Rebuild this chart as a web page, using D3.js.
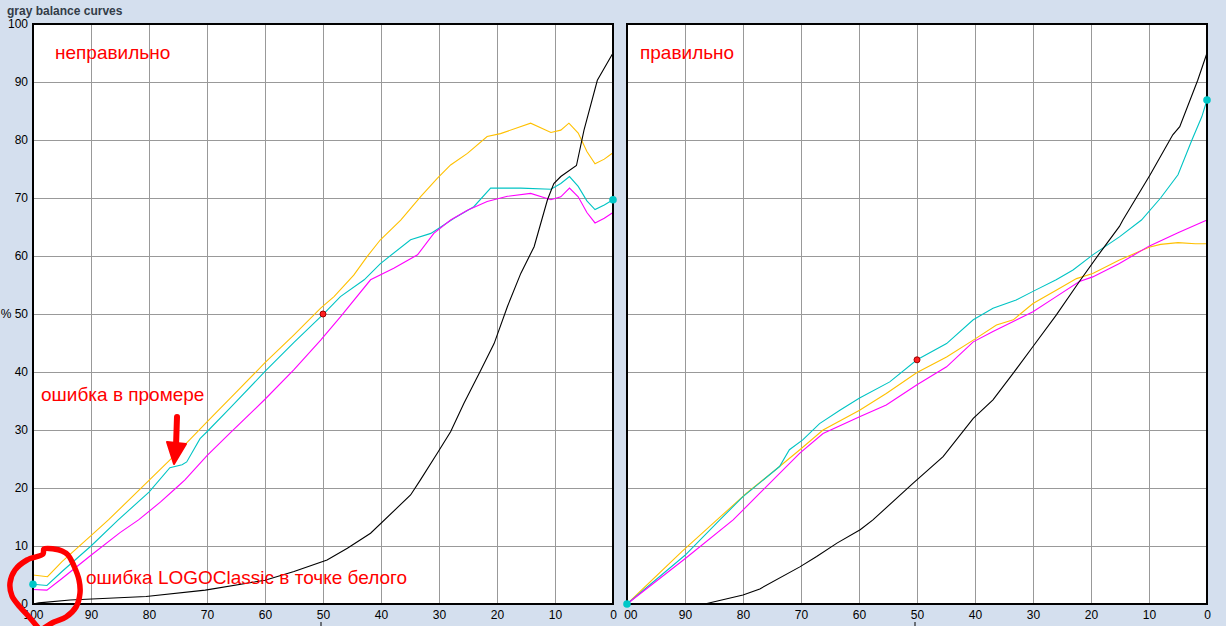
<!DOCTYPE html>
<html><head><meta charset="utf-8">
<script src="https://cdn.jsdelivr.net/npm/d3@7"></script>
<style>
html,body{margin:0;padding:0;background:#d4dfee;}
svg{display:block;}
</style></head>
<body>
<svg id="c" width="1226" height="626"></svg>
<script>
// ---- data ----
const title = "gray balance curves";
const xTicks = [100, 90, 80, 70, 60, 50, 40, 30, 20, 10, 0];
const yTicks = [0, 10, 20, 30, 40, 50, 60, 70, 80, 90, 100];
const yTickLabels = ["0", "10", "20", "30", "40", "% 50", "60", "70", "80", "90", "100"];

// left panel ("неправильно")
const leftYellow = [[100,5.0],[97.5,4.7],[95,7.3],[90,11.8],[87,14.5],[80,21.3],[75.5,25.7],[70,31.4],[65,36.5],[60,41.6],[55,46.4],[50.4,51.0],[48.1,53.0],[44.7,56.7],[42.4,59.9],[40.1,62.8],[36.6,66.2],[33.2,70.2],[30.3,73.4],[28,75.7],[25.1,77.7],[21.7,80.6],[19.4,81.1],[14.2,82.9],[10.7,81.3],[9,81.7],[7.6,82.9],[6,81.2],[4.5,78],[3.1,75.9],[1.5,76.7],[0,77.8]];
const leftCyan = [[100,3.4],[97.6,3.2],[95,5.6],[90,10.0],[85.3,14.5],[80,19.3],[76.4,23.5],[74.3,24.0],[73.5,24.5],[71.2,28.5],[70,29.7],[66,33.8],[60,40.1],[55,45.1],[49.8,50.1],[47,53],[42.9,55.9],[40.1,58.7],[34.9,62.8],[31.4,63.9],[27.4,66.5],[24,68.5],[21.1,71.7],[15.9,71.7],[10.7,71.5],[9,72.5],[7.5,73.7],[6,72],[4.5,69.5],[3.1,68.0],[1.5,68.8],[0,69.7]];
const leftMagenta = [[100,2.5],[97.6,2.4],[95,4.4],[90,8.4],[85,12.3],[81.8,14.5],[78,17.6],[75,20.3],[73.8,21.4],[70,25.6],[66,29.5],[60,35.3],[55,40.4],[50.4,45.5],[47,49.5],[41.8,55.9],[37.8,57.9],[33.7,60.2],[30.9,63.9],[28,66.2],[25.1,67.9],[21.7,69.4],[18.2,70.3],[14.2,70.8],[10.7,69.7],[9,70.2],[7.5,71.7],[6,70.2],[4.5,67.5],[3.1,65.7],[1.5,66.5],[0,67.5]];
const leftBlack = [[100,0],[99,0.2],[93.6,0.7],[80.5,1.3],[70.3,2.4],[60,4.1],[55,5.6],[49.3,7.6],[45.8,9.6],[41.8,12.2],[34.9,18.8],[33.2,21.4],[30.3,26.0],[28,29.7],[25.7,34.6],[22.8,40.3],[20.5,44.9],[18.2,51.3],[15.9,57],[13.6,61.6],[11.3,69.7],[10.2,72.5],[9,73.7],[6.3,75.6],[5,81.7],[2.7,90.3],[0,95]];

// right panel ("правильно")
const rightYellow = [[100,0],[90.6,9.0],[84.5,14.5],[79.4,19.1],[73.7,23.7],[70.2,26.6],[66.2,30],[59.9,33.4],[55.3,36.3],[50,39.9],[44.9,42.6],[40.3,45.5],[36.3,48.1],[33.4,49.0],[30,51.8],[26,54.1],[22.5,56.1],[19.7,57.0],[15.1,59.3],[10,61.5],[8,62],[5,62.3],[2,62.1],[0,62.1]];
const rightCyan = [[100,0],[90,8.4],[84,14.5],[80,18.5],[73.7,23.7],[72,26.6],[69.7,28.3],[66.8,31.1],[63.3,33.4],[59.9,35.5],[54.7,38.3],[50,42.1],[44.9,44.9],[40.3,49.0],[36.9,51],[32.9,52.4],[30,53.9],[26,55.9],[23.1,57.6],[19.7,60.2],[15.1,63.3],[11.3,66.2],[8,70],[5,74],[2.6,80],[0.9,84],[0,86.9]];
const rightMagenta = [[100,0],[90,7.8],[81.7,14.5],[77.1,19.1],[70.2,26],[66.2,29.4],[59.9,32.3],[55.3,34.3],[50,37.8],[44.9,40.9],[40.3,45.2],[36.9,47.0],[33.4,48.7],[30,50.4],[26,53],[22,55.6],[19.7,56.4],[15.1,58.7],[10,61.7],[5,64],[0,66.2]];
const rightBlack = [[100,0],[90,0],[86.6,0],[80,1.55],[77.1,2.6],[70.2,6.4],[67.3,8.2],[63.8,10.5],[59.8,12.8],[57.6,14.5],[50.7,20.8],[45.5,25.4],[40.3,32.0],[36.9,35.2],[33.4,39.8],[30,44.4],[26,49.8],[22,55.6],[18.5,60.5],[15.1,65.1],[14.5,66.2],[9.8,74],[5.9,80.9],[4.7,82.3],[1.6,90.3],[0,95]];

const leftCyanDots = [[100,3.4],[0,69.7]];
const leftRedDots = [[50,50]];
const rightCyanDots = [[100,0],[0,86.9]];
const rightRedDots = [[50,42.1]];

// ---- drawing ----
const svg = d3.select("#c");
const W = 580, H = 580;
const x = d3.scaleLinear().domain([100, 0]).range([0, W]);
const y = d3.scaleLinear().domain([0, 100]).range([H, 0]);
const colors = {yellow:"#ffc000", cyan:"#00c4c4", magenta:"#ff00ff", black:"#000000"};

svg.append("text").attr("x", 7).attr("y", 15)
  .attr("font-family", "Liberation Sans, Arial, sans-serif").attr("font-size", 12).attr("font-weight", "bold")
  .attr("fill", "#333c48").text(title);

const defs = svg.append("defs");
defs.append("clipPath").attr("id","plotclip").append("rect").attr("x",-1).attr("y",-1).attr("width",W+2).attr("height",H+2);
defs.append("clipPath").attr("id","rlabclip").append("rect").attr("x",-3).attr("y",0).attr("width",W+40).attr("height",40);

function panel(ox, series, cyanDots, redDots, showY, label, labelX) {
  const g = svg.append("g").attr("transform", `translate(${ox},24)`);
  g.append("rect").attr("width", W).attr("height", H).attr("fill", "#fff");
  // grid
  g.append("g").attr("transform", `translate(0,${H})`)
    .call(d3.axisBottom(x).tickValues(xTicks).tickSize(-H).tickFormat(""))
    .call(a => { a.select(".domain").remove(); a.selectAll("line").attr("stroke", "#999").attr("stroke-width",1).attr("shape-rendering","crispEdges"); });
  g.append("g")
    .call(d3.axisLeft(y).tickValues(yTicks).tickSize(-W).tickFormat(""))
    .call(a => { a.select(".domain").remove(); a.selectAll("line").attr("stroke", "#999").attr("stroke-width",1).attr("shape-rendering","crispEdges"); });
  // annotations label
  g.append("text").attr("x", labelX).attr("y", 35)
    .attr("font-family", "Liberation Sans, Arial, sans-serif").attr("font-size", 19)
    .attr("fill", "#ff0000").text(label);
  // curves
  const line = d3.line().x(d => x(d[0])).y(d => y(d[1]));
  const cg = g.append("g").attr("clip-path", "url(#plotclip)");
  series.forEach(s => {
    cg.append("path").datum(s.data).attr("d", line).attr("fill", "none")
      .attr("stroke", s.color).attr("stroke-width", 1.1);
  });
  // border
  g.append("rect").attr("width", W).attr("height", H).attr("fill", "none")
    .attr("stroke", "#000").attr("stroke-width", 2);
  // dots
  g.selectAll(".cd").data(cyanDots).enter().append("circle")
    .attr("cx", d => x(d[0])).attr("cy", d => y(d[1])).attr("r", 3.8).attr("fill", "#00c8c8");
  g.selectAll(".rd").data(redDots).enter().append("circle")
    .attr("cx", d => x(d[0])).attr("cy", d => y(d[1])).attr("r", 3).attr("fill", "#ff2020").attr("stroke", "#a00000").attr("stroke-width", 1);
  // x tick labels
  const xl = g.append("g").attr("transform", `translate(0,${H})`);
  if (!showY) xl.attr("clip-path", "url(#rlabclip)");
  xl.call(d3.axisBottom(x).tickValues(xTicks).tickSize(0).tickPadding(6.5).tickFormat(d3.format("d")))
    .call(a => { a.select(".domain").remove(); a.selectAll("text").attr("font-family","Liberation Sans, Arial, sans-serif").attr("font-size",12).attr("fill","#000"); });
  // small marker tick below 50
  g.append("line").attr("x1", x(50) - 2).attr("x2", x(50) - 2).attr("y1", H + 18).attr("y2", H + 23)
    .attr("stroke", "#000").attr("stroke-width", 1);
  if (showY) {
    g.append("g")
      .call(d3.axisLeft(y).tickValues(yTicks).tickSize(0).tickPadding(5).tickFormat((d, i) => yTickLabels[i]))
      .call(a => { a.select(".domain").remove(); a.selectAll("text").attr("font-family","Liberation Sans, Arial, sans-serif").attr("font-size",12).attr("fill","#000"); });
  }
  return g;
}

const gl = panel(33, [
  {data: leftYellow, color: colors.yellow},
  {data: leftCyan, color: colors.cyan},
  {data: leftMagenta, color: colors.magenta},
  {data: leftBlack, color: colors.black}
], leftCyanDots, leftRedDots, true, "неправильно", 22);

const gr = panel(627, [
  {data: rightYellow, color: colors.yellow},
  {data: rightCyan, color: colors.cyan},
  {data: rightMagenta, color: colors.magenta},
  {data: rightBlack, color: colors.black}
], rightCyanDots, rightRedDots, false, "правильно", 13);

// annotations in left panel
const ann = svg.append("g").attr("font-family", "Liberation Sans, Arial, sans-serif").attr("font-size", 19).attr("fill", "#ff0000");
ann.append("text").attr("x", 41).attr("y", 401).text("ошибка в промере");
ann.append("text").attr("x", 86).attr("y", 584).text("ошибка LOGOClassic в точке белого");

// hand-drawn arrow
svg.append("line").attr("x1", 177).attr("y1", 417).attr("x2", 176).attr("y2", 446)
  .attr("stroke", "#ff0000").attr("stroke-width", 6).attr("stroke-linecap", "round");
svg.append("path").attr("d", "M167,442 L186,444 L174,464 Z").attr("fill", "#ff0000")
  .attr("stroke", "#ff0000").attr("stroke-width", 2).attr("stroke-linejoin", "round");

// hand-drawn circle
const circPts = [[40,630],[30,618],[20,607],[12,596],[10,583],[15,570],[27,560],[43,554],[44,549],[54,549],[62,551],[68,555],[74,566],[79,580],[80,593],[76,607],[66,617],[54,622],[44,628]];
svg.append("path").attr("d", d3.line().curve(d3.curveCatmullRom)(circPts))
  .attr("fill", "none").attr("stroke", "#ff0000").attr("stroke-width", 5.5)
  .attr("stroke-linecap", "round").attr("stroke-linejoin", "round");
</script>
</body></html>
